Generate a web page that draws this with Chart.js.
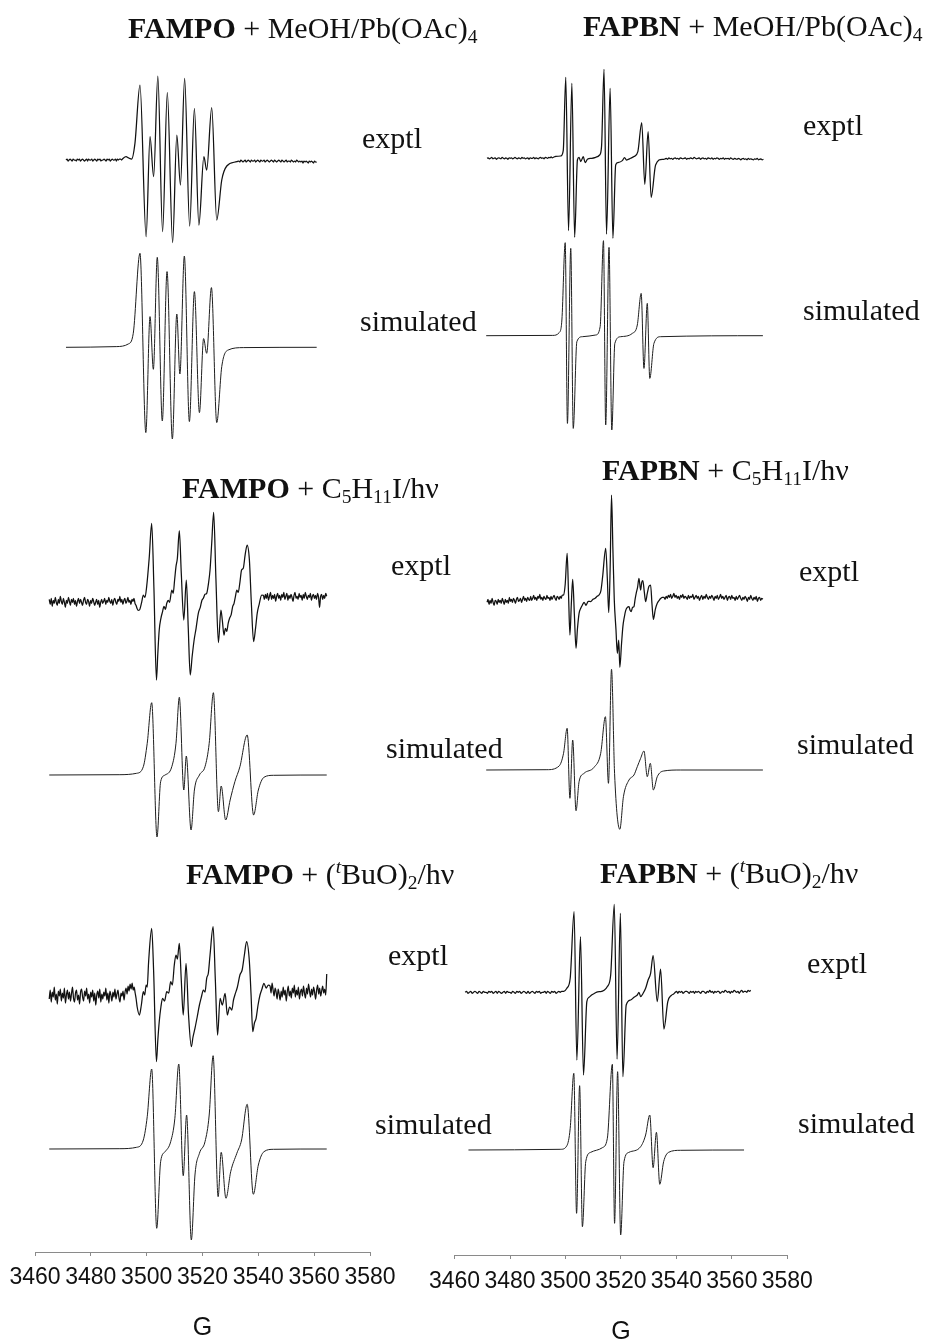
<!DOCTYPE html>
<html>
<head>
<meta charset="utf-8">
<script src="https://cdn.jsdelivr.net/npm/chart.js@4.4.1/dist/chart.umd.min.js"></script>
<style>
  html, body { margin: 0; padding: 0; background: #fff; }
  body { width: 931px; height: 1343px; position: relative; overflow: hidden; }
  canvas { position: absolute; top: 0; }
  .txt { position: absolute; font-family: "Liberation Serif", "Times New Roman", serif; font-size: 30px;
         line-height: 30px; color: #111; white-space: nowrap; }
  .txt sub { font-size: 0.65em; vertical-align: -0.25em; line-height: 0; }
  .txt sup { font-size: 0.65em; vertical-align: 0.55em; line-height: 0; }
</style>
</head>
<body>
<canvas id="colLeft" width="420" height="1343" style="left:0"></canvas>
<canvas id="colRight" width="511" height="1343" style="left:420px"></canvas>

<div class="txt" style="left:128px;top:13px"><b>FAMPO</b> + MeOH/Pb(OAc)<sub>4</sub></div>
<div class="txt" style="left:583px;top:11px"><b>FAPBN</b> + MeOH/Pb(OAc)<sub>4</sub></div>
<div class="txt" style="left:182px;top:473px"><b>FAMPO</b> + C<sub>5</sub>H<sub>11</sub>I/hν</div>
<div class="txt" style="left:602px;top:455px"><b>FAPBN</b> + C<sub>5</sub>H<sub>11</sub>I/hν</div>
<div class="txt" style="left:186px;top:859px"><b>FAMPO</b> + (<sup><i>t</i></sup>BuO)<sub>2</sub>/hν</div>
<div class="txt" style="left:600px;top:858px"><b>FAPBN</b> + (<sup><i>t</i></sup>BuO)<sub>2</sub>/hν</div>

<div class="txt" style="left:362px;top:123px">exptl</div>
<div class="txt" style="left:360px;top:306px">simulated</div>
<div class="txt" style="left:803px;top:110px">exptl</div>
<div class="txt" style="left:803px;top:295px">simulated</div>
<div class="txt" style="left:391px;top:550px">exptl</div>
<div class="txt" style="left:386px;top:733px">simulated</div>
<div class="txt" style="left:799px;top:556px">exptl</div>
<div class="txt" style="left:797px;top:729px">simulated</div>
<div class="txt" style="left:388px;top:940px">exptl</div>
<div class="txt" style="left:375px;top:1109px">simulated</div>
<div class="txt" style="left:807px;top:948px">exptl</div>
<div class="txt" style="left:798px;top:1108px">simulated</div>

<script>
// Magnetic field axis (gauss)
const fieldTicks = [3460, 3480, 3500, 3520, 3540, 3560, 3580];

// Spectra: [field in G, signal (derivative intensity, arbitrary units)].
// Baseline noise is listed as readings at even steps across a field range.

// FAMPO + MeOH/Pb(OAc)4
const fampoPbNoiseL = [0,1,-1,0,1,0,-1,1,0,0,-1,1,0,1,-1,0,1,0,-1,0,1,-1,1,0,0,1,-1,0,1,0,-1,1,0,1,-1,0,0,1,0,-1,1,0,1,-1,0,1,0,0,1,-1,1,0,1,1,0];
const fampoPbLines = [[3491.5,1.5],[3492.6,3.3],[3493.6,2],[3494.6,1],[3495.8,16.7],[3497.6,75],[3499.8,-76.7],[3501.2,23.3],[3502.5,-16.7],[3504.0,84],[3505.7,-71.7],[3507.4,67.3],[3509.3,-82.7],[3510.8,25],[3512.1,-25],[3513.6,81.7],[3515.4,-66],[3517.1,51.7],[3518.7,-65],[3520.5,3.3],[3521.5,-10],[3523.3,52.3],[3525.1,-60],[3526.9,-20],[3528.7,-6],[3532.3,-1.7]];
const fampoPbNoiseR = [-1,-2,0,-1,-2,-1,0,-2,-1,0,-1,-2,0,-1,-1,0,-2,-1,0,-1,-2,0,-1,-1,0,-2,-1,0,-1,-2,-1,0,-1,-2,0,-1,-2,-1,0,-1,-2,0,-1,-2,-1,0,-2,-1,-1,-2,0,-1,-2,-1,-2,0,-1,-2,-1,-2,-1,-3,-1,-2,-1,-2,-3,-1,-2,-1,-2,-3,-1,-2,-2];
const fampoPbSim = [[3471.1,0],[3480,0.2],[3489.3,0.7],[3493.4,3.3],[3495.2,14],[3497.6,94],[3499.7,-85.3],[3501.2,30.7],[3502.4,-22],[3503.8,90],[3505.6,-73.7],[3507.3,75.7],[3509.2,-91.7],[3510.8,33.3],[3511.9,-26.7],[3513.5,91.3],[3515.3,-74.3],[3517.1,55.7],[3518.9,-65.3],[3520.4,8.7],[3521.5,-6],[3523.2,59.7],[3525.1,-75.3],[3526.9,-19.3],[3529.2,-2.7],[3534.6,-0.3],[3560.9,0]];

// FAPBN + MeOH/Pb(OAc)4
const fapbnPbNoiseL = [0,0.5,-0.5,0,1,-0.5,0,0.5,-1,0,0.5,0,-0.5,1,0,-0.5,0.5,0,-1,0.5,0,0.5,-0.5,0,1,0,-0.5,0.5,0,-0.5,1,0,0.5,-0.5,0,0.5,-1,0.5,0,0,1,-0.5,0.5,0,-0.5,0.5,1,0,0.5,-0.5,1,0.5,0,1,0.5,1.5,0.5,1,1.5,2];
const fapbnPbLines = [[3498.3,2.3],[3499.2,8],[3500.1,81],[3501.1,-72.3],[3502.3,75],[3503.3,-79],[3504.3,-1.7],[3504.9,1],[3505.5,-3.3],[3506.4,1.7],[3507.1,-4.3],[3507.9,-1],[3509.5,0],[3510.9,1],[3512.3,3.3],[3513.0,11.7],[3513.9,89],[3514.8,-75.7],[3516.1,70],[3517.1,-80],[3518.1,-6.7],[3518.9,-4.3],[3520.5,-2.3],[3521.3,0.7],[3522.0,-1.7],[3523.5,0],[3524.7,1.7],[3526.1,6.7],[3527.5,35.7],[3528.6,-26],[3529.8,26.7],[3530.9,-39],[3532.5,-6.7],[3534.9,-1]];
const fapbnPbNoiseR = [-1,-0.5,0,-1,0.5,-0.5,0,-1,0,0.5,-0.5,0,-1,0.5,0,-0.5,0,0.5,-1,0,-0.5,0.5,0,-0.5,1,0,-0.5,0,0.5,-1,0,0.5,-0.5,0,-1,0.5,0,-0.5,0.5,-1,0,-0.5,0.5,0,-1,0,-0.5,0.5,-1,0,-0.5,0,-1,0.5,-0.5,-1,0,-0.5,-1,0,-0.5,-1.5,-0.5,0,-1,-0.5,-1.5,0,-1,-0.5,-1,-1.5,-0.5,-1,0,-1.5,-1,-0.5,-1.5,-1];
const fapbnPbSim = [[3471.4,0],[3495.4,0.3],[3497.7,3],[3498.7,15.7],[3499.9,93],[3500.7,-87.7],[3501.9,87.3],[3502.8,-92.7],[3504.1,-6],[3506.1,-1],[3510.9,0.7],[3512.5,9],[3513.7,95],[3514.5,-89.3],[3515.7,88.3],[3516.7,-94.3],[3517.8,-7.7],[3519.9,-1],[3524.1,2.3],[3525.9,10.7],[3527.3,42.3],[3528.3,-32.7],[3529.5,32.3],[3530.4,-42.7],[3531.9,-7.7],[3534.3,-1],[3571.2,0]];

// FAMPO + C5H11I/hv
const fampoC5NoiseL = [-1,-6,0,-8,-2,-5,1,-4,-7,-1,-5,2,-3,-6,0,-4,-9,-2,-5,1,-3,-7,-1,-4,0,-6,-2,-8,-3,0,-5,-1,-4,-7,-2,1,-4,-6,-1,-3,-8,-2,-5,0,-3,-7,-4,-1,-6,-2,-9,-4,-1,-5,-3,0,-6,-2,-4,1,-3,-5,-1,-7,-2,0,-4,-6,-1,-3,2,-4,-1,-6,-2,0,-5,-3,1,-4,-2,-6,-1,-3,0,-5,-7,-10,-12];
const fampoC5Lines = [[3497.4,-11.7],[3498.2,-4],[3498.8,3.3],[3499.4,1],[3500.0,11.7],[3500.9,40],[3501.8,75],[3502.6,10],[3503.5,-81.7],[3504.0,-55],[3504.5,-31.7],[3505.1,-20],[3505.7,-13.3],[3506.2,-8],[3506.7,-11],[3507.2,-5],[3507.7,-2],[3508.2,-4],[3509.0,8.3],[3509.5,5],[3510.0,18],[3510.5,31.7],[3511.0,40],[3511.7,67.7],[3512.4,25],[3513.3,-21.7],[3514.2,18.3],[3514.9,-30],[3515.6,-76.7],[3516.3,-58],[3517.0,-41.7],[3517.7,-30],[3518.5,-15],[3519.2,-9],[3519.8,-2],[3520.3,0],[3520.9,4],[3521.5,5],[3522.1,14],[3522.7,28.3],[3523.3,55],[3524.0,86],[3524.8,20],[3525.7,-44.3],[3526.6,-11.7],[3527.1,-22],[3527.7,-36.7],[3528.2,-30],[3528.7,-33],[3529.2,-25],[3529.7,-20],[3530.3,-16],[3530.8,-8.3],[3531.3,-5],[3531.8,2],[3532.3,8.3],[3532.8,6],[3533.4,16],[3534.0,28.3],[3534.6,30],[3535.3,44],[3536.0,53.3],[3536.8,38.3],[3537.5,-5],[3538.3,-43.3],[3539.0,-30],[3539.6,-15],[3540.3,-6],[3541.2,3.3]];
const fampoC5NoiseR = [3,-1,4,0,5,-2,2,6,-1,3,0,4,-3,2,5,0,3,-2,4,1,6,-1,2,5,-2,3,0,4,1,-3,3,6,0,2,-1,5,1,3,-2,4,0,6,2,-1,3,1,5,-2,2,4,0,3,-1,5,1,-9,2,4,-1,3,0,5,2];
const fampoC5Sim = [[3465.1,0],[3490.4,0.3],[3496.4,1.7],[3498.8,8.3],[3500.2,31.7],[3501.8,72.3],[3503.7,-62],[3505.0,-6.7],[3506.6,0],[3509.0,8.3],[3510.5,31.7],[3511.7,77.7],[3513.3,-15],[3514.2,19],[3515.9,-55],[3517.1,-15],[3518.9,0],[3520.9,8.3],[3522.4,31.7],[3523.9,82.3],[3525.7,-36.7],[3526.7,-11],[3528.3,-45],[3529.9,-25],[3531.6,-6.7],[3533.4,8.3],[3536.0,40],[3538.3,-40],[3540.0,-15],[3542.0,-2.3],[3545.4,-0.3],[3564.5,0]];

// FAPBN + C5H11I/hv
const fapbnC5NoiseL = [-3,0,-5,-1,-4,1,-3,-6,-1,-2,-5,0,-3,-1,-4,1,-2,-5,0,-3,-1,-4,2,-2,0,-3,1,-1,-4,0,2,-2,-1,1,-3,0,3,-1,1,-2,2,0,-1,3,-1,1,4,0,2,-1,3,1,5,0,2,-1,3,1,0,4,1,2,-1,3,0,2,4,1,-1,3,2,0,3,1,4];
const fapbnC5Lines = [[3499.3,4.3],[3499.9,15],[3500.6,46],[3501.1,5],[3501.6,-35.7],[3502.1,-5],[3502.6,20],[3503.2,-15],[3503.8,-49],[3504.3,-30],[3504.9,-14],[3505.5,-9],[3506.1,-5.7],[3506.7,-3],[3507.4,-6],[3508.2,-2],[3509.1,-2.3],[3509.9,0],[3510.7,1],[3511.4,3],[3512.1,4.3],[3512.8,9],[3513.4,22.7],[3514.5,51],[3515.1,20],[3515.6,-13.3],[3516.1,30],[3516.6,104.3],[3517.1,50],[3517.6,-0.7],[3518.2,-30],[3518.7,-54],[3519.2,-40.7],[3519.6,-68],[3520.2,-45],[3520.7,-27.3],[3521.2,-18],[3521.7,-11.3],[3522.3,-8],[3522.9,-7.3],[3523.3,-11],[3523.7,-12.3],[3524.2,-8],[3524.7,-7.3],[3525.1,0],[3525.5,6],[3526.0,12],[3526.5,21],[3527.1,9.3],[3527.5,17],[3527.9,18.7],[3528.4,8],[3528.9,-2.3],[3529.5,6],[3530.1,13],[3530.7,14.3],[3531.2,-5],[3531.7,-20],[3532.4,-10],[3533.1,-4],[3533.8,-1],[3534.4,1],[3534.9,2]];
const fapbnC5NoiseR = [2,0,3,1,4,2,5,1,3,6,2,4,1,3,0,4,2,5,1,3,2,0,4,1,3,2,5,0,2,4,1,3,-1,2,4,0,3,1,5,2,0,3,1,4,2,-1,3,1,4,0,2,5,1,3,0,2,4,-1,2,3,0,4,1,2,-1,3,0,2,4,1,-1,2,0,3,1,-2,2,0,4,1,-1,2,0,3,-2,1,2,-1,1,0];
const fapbnC5Sim = [[3471.4,0],[3493.3,0.3],[3497.7,4],[3499.3,16.7],[3500.6,41.7],[3501.6,-28.3],[3502.6,30],[3503.8,-40.7],[3504.9,-11.7],[3506.7,-3.3],[3510.3,2.7],[3512.7,16.7],[3514.4,53.3],[3515.5,-13.3],[3516.6,100.7],[3517.7,-3.3],[3519.6,-59.3],[3520.9,-26.7],[3522.9,-10],[3524.7,-5],[3525.9,3.3],[3527.1,11.7],[3528.3,19],[3529.5,-6.7],[3530.6,6.7],[3531.7,-20],[3533.1,-6.7],[3535.4,-1],[3541.4,0],[3571.2,0]];

// FAMPO + (tBuO)2/hv
const fampoBuoNoiseL = [-4,5,-7,3,-2,8,-5,1,-9,4,-1,6,-6,2,-3,7,-8,0,5,-4,3,-6,1,8,-3,-7,2,5,-5,0,-9,3,6,-2,-6,4,-1,7,-4,1,-8,3,-2,5,-6,2,-10,0,4,-3,6,-7,1,-4,3,-1,7,-5,2,-8,4,0,-6,3,-2,6,-4,1,5,-3,-7,2,-1,4,-5,3,7,1,9,4,11,6,12,5,8,2,-4,-12];
const fampoBuoLines = [[3497.4,-20],[3498.1,-10],[3498.8,3.3],[3499.3,0],[3499.8,10],[3500.2,8],[3500.7,33.3],[3501.8,66.7],[3502.5,23.3],[3503.5,-66.7],[3504.0,-45],[3504.5,-26.7],[3505.1,-12],[3505.7,-3.3],[3506.4,-6],[3507.2,3.3],[3507.9,2],[3508.6,13.3],[3509.2,10],[3509.9,30],[3510.5,40],[3511.0,36],[3511.7,51.7],[3512.4,15],[3513.1,-20],[3514.1,31.7],[3515.0,-20],[3516.0,-51.7],[3516.6,-42],[3517.3,-33.3],[3518.1,-22],[3518.9,-10],[3519.6,-2],[3520.3,5],[3520.9,3],[3521.5,16.7],[3522.1,22],[3522.7,40],[3523.8,68.3],[3524.6,15],[3525.4,-40],[3526.3,-3.3],[3527.1,-10],[3528.1,1.7],[3528.9,-20],[3529.7,-12],[3530.5,-15],[3531.1,-5],[3531.6,0],[3532.5,8],[3533.4,20],[3534.2,25],[3535.0,40],[3535.8,53.3],[3536.8,33.3],[3537.4,0],[3538.0,-36.7],[3538.6,-28],[3539.2,-23.3],[3539.9,-10],[3540.6,0],[3541.3,6],[3542.0,11.7],[3542.8,7],[3543.6,10]];
const fampoBuoNoiseR = [9,2,12,5,-1,7,3,-4,6,1,-5,4,-2,8,0,5,-6,3,9,-1,4,-3,7,2,10,-2,5,0,8,-4,3,6,-1,9,2,-3,7,1,11,4,-2,6,0,8,3,-4,5,10,1,7,-1,4,9,2,6,0,21];
const fampoBuoSim = [[3465.1,0],[3490.4,0.3],[3496.4,1.7],[3498.8,9],[3500.2,32.3],[3501.8,80],[3503.6,-79.3],[3505.0,-12.7],[3506.6,-2.7],[3508.6,7.3],[3510.1,30.7],[3511.5,85],[3513.1,-26.7],[3514.3,34],[3516.0,-91],[3517.3,-26],[3518.9,-4.3],[3520.9,7.3],[3522.4,34],[3523.8,93.3],[3525.6,-47.7],[3526.7,-3.3],[3528.4,-49.3],[3530.1,-22.7],[3532.3,-4.3],[3534.0,9],[3536.0,44.7],[3538.2,-45.3],[3540.0,-16],[3542.0,-2.7],[3545.4,-0.3],[3564.5,0]];

// FAPBN + (tBuO)2/hv
const fapbnBuoNoiseL = [0,1,-1,0,1,-1,0,1,0,-1,1,0,-1,1,0,0,-1,1,0,1,-1,0,1,-1,1,0,-1,0,1,-1,1,0,0,-1,1,0,-1,1,0,1,-1,0,1,0,-1,1,-1,0,1,0,-1,1,0,1,-1,0,0,1,-1,1,0,-1,1,0,1,-1,0,1,0,1];
const fapbnBuoLines = [[3499.4,1],[3500.5,4],[3501.7,14],[3503.1,80.7],[3504.1,-67.7],[3505.4,55.7],[3506.5,-82.7],[3507.7,-9.3],[3508.5,-5],[3509.4,-2.7],[3510.5,-1],[3511.6,0.5],[3512.7,0.7],[3513.9,2],[3515.1,5.7],[3516.3,17.3],[3517.6,88],[3518.6,-66.7],[3519.8,79],[3520.7,-84.3],[3521.9,-12.7],[3523.5,-7.7],[3524.7,-5],[3525.9,-2.7],[3526.5,0],[3527.1,-4.3],[3528.0,-1],[3528.9,4],[3529.8,12.3],[3530.7,19],[3531.6,36.7],[3533.1,-9.3],[3534.3,23.3],[3535.5,-36.7],[3536.9,-9.3],[3538.2,-3],[3539.0,-1.7]];
const fapbnBuoNoiseR = [0,1,-1,1,0,1,-1,0,1,1,0,-1,1,0,1,-1,1,0,1,0,-1,1,1,0,-1,1,0,2,0,1,-1,1,0,1,1,-1,0,1,0,2,1,0,1,-1,1,0,2,1,0,1,-1,1,2,0,1,1,0,2,1,2];
const fapbnBuoSim = [[3465.0,0],[3498.3,0.7],[3500.5,4.3],[3501.7,21.7],[3503.0,76.7],[3504.0,-63.3],[3505.1,64.3],[3506.1,-76.7],[3507.3,-11.7],[3509.1,-2.3],[3513.3,2.3],[3515.1,11.7],[3516.9,85.7],[3517.7,-73.3],[3518.8,78.3],[3519.9,-85],[3521.1,-11.7],[3522.9,-2.3],[3527.1,3.3],[3528.9,15],[3530.4,35],[3531.6,-17.7],[3532.8,17.7],[3534.0,-34.3],[3535.4,-11.7],[3537.2,-2.3],[3541.4,-0.3],[3564.4,0]];

// Evenly spaced readings across a field range
function spread(fromG, toG, values) {
  const n = values.length;
  return values.map((v, i) => [fromG + (toG - fromG) * i / (n - 1), v]);
}

// Each column: traces stacked on their baseline row (px from page top)
const leftTraces = [
  { label: 'FAMPO MeOH/Pb(OAc)4 exptl', row: 160, exptl: true,
    points: [...spread(3471.1, 3491.0, fampoPbNoiseL), ...fampoPbLines, ...spread(3533.0, 3560.9, fampoPbNoiseR)] },
  { label: 'FAMPO MeOH/Pb(OAc)4 simulated', row: 347.3, points: fampoPbSim },
  { label: 'FAMPO C5H11I exptl', row: 598.3, exptl: true,
    points: [...spread(3465.1, 3496.9, fampoC5NoiseL), ...fampoC5Lines, ...spread(3541.8, 3564.5, fampoC5NoiseR)] },
  { label: 'FAMPO C5H11I simulated', row: 775, points: fampoC5Sim },
  { label: 'FAMPO (tBuO)2 exptl', row: 995, exptl: true,
    points: [...spread(3465.1, 3496.6, fampoBuoNoiseL), ...fampoBuoLines, ...spread(3544.2, 3564.5, fampoBuoNoiseR)] },
  { label: 'FAMPO (tBuO)2 simulated', row: 1149, points: fampoBuoSim }
];
const rightTraces = [
  { label: 'FAPBN MeOH/Pb(OAc)4 exptl', row: 158.3, exptl: true,
    points: [...spread(3471.7, 3496.5, fapbnPbNoiseL), ...fapbnPbLines, ...spread(3535.5, 3571.4, fapbnPbNoiseR)] },
  { label: 'FAPBN MeOH/Pb(OAc)4 simulated', row: 335.7, points: fapbnPbSim },
  { label: 'FAPBN C5H11I exptl', row: 599.3, exptl: true,
    points: [...spread(3471.7, 3498.8, fapbnC5NoiseL), ...fapbnC5Lines, ...spread(3535.5, 3571.2, fapbnC5NoiseR)] },
  { label: 'FAPBN C5H11I simulated', row: 770, points: fapbnC5Sim },
  { label: 'FAPBN (tBuO)2 exptl', row: 992.3, exptl: true,
    points: [...spread(3463.8, 3498.6, fapbnBuoNoiseL), ...fapbnBuoLines, ...spread(3539.6, 3566.8, fapbnBuoNoiseR)] },
  { label: 'FAPBN (tBuO)2 simulated', row: 1150, points: fapbnBuoSim }
];

const sansFamily = '"Liberation Sans", Arial, Helvetica, sans-serif';

function drawColumn(canvasId, traces, frame) {
  const canvas = document.getElementById(canvasId);
  const H = canvas.height;
  return new Chart(canvas, {
    type: 'line',
    data: {
      datasets: traces.map(t => ({
        label: t.label,
        data: t.points.map(([g, a]) => ({ x: g, y: frame.axisY - t.row + a })),
        borderColor: t.exptl ? '#111' : '#1e1e1e',
        borderWidth: t.exptl ? 1.25 : 1,
        pointRadius: 0,
        fill: false,
        cubicInterpolationMode: 'monotone'
      }))
    },
    options: {
      responsive: false,
      animation: false,
      devicePixelRatio: 1,
      layout: { padding: { left: frame.left, right: frame.right, top: 0, bottom: 0 } },
      plugins: { legend: { display: false }, tooltip: { enabled: false } },
      scales: {
        x: {
          type: 'linear',
          position: 'bottom',
          min: fieldTicks[0],
          max: fieldTicks[fieldTicks.length - 1],
          afterBuildTicks: ax => { ax.ticks = fieldTicks.map(v => ({ value: v })); },
          afterFit: ax => { ax.height = H - frame.axisY; },
          grid: { drawOnChartArea: false, drawTicks: true, tickLength: 4, color: '#8a8a8a', lineWidth: 1 },
          border: { display: true, color: '#8a8a8a', width: 1 },
          ticks: {
            autoSkip: false, maxRotation: 0, minRotation: 0,
            padding: frame.tickPad, color: '#111',
            font: { family: sansFamily, size: 23 },
            callback: v => String(v)
          },
          title: {
            display: true, text: 'G', color: '#111', padding: 0,
            font: { family: sansFamily, size: 25, lineHeight: frame.titleLH }
          }
        },
        y: { display: false, min: 0, max: frame.axisY }
      }
    }
  });
}

drawColumn('colLeft', leftTraces, { axisY: 1252, left: 35, right: 50, tickPad: 8, titleLH: 1.2 });
drawColumn('colRight', rightTraces, { axisY: 1255, left: 33.3, right: 143.7, tickPad: 9, titleLH: 0.88 });
</script>
</body>
</html>
